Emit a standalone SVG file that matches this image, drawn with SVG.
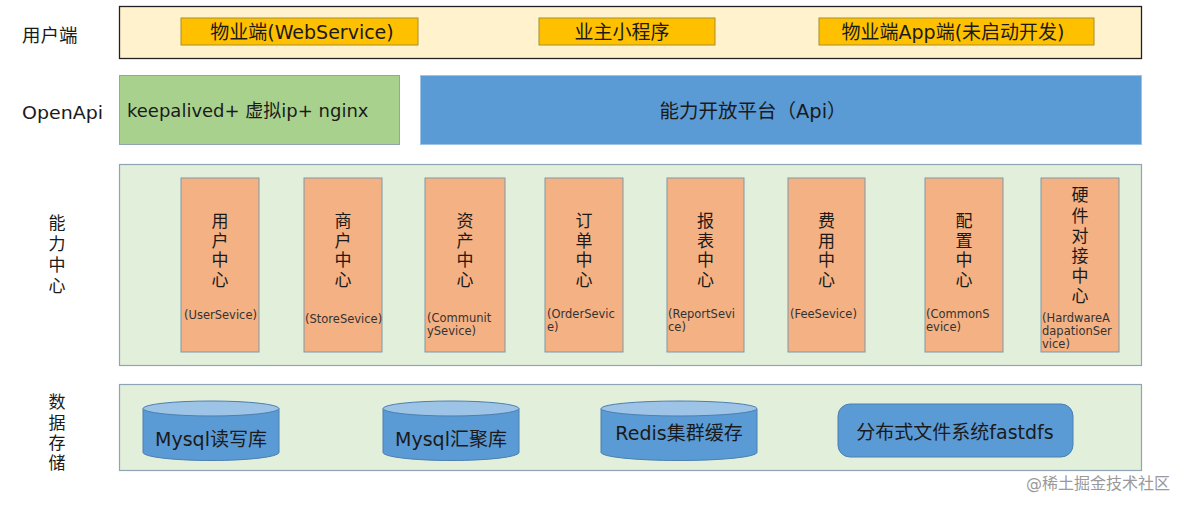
<svg xmlns="http://www.w3.org/2000/svg" width="1186" height="509" viewBox="0 0 1186 509">
<style>
text{font-family:"DejaVu Sans","Noto Sans CJK SC",sans-serif;fill:#1a1a1a}
.lbl{font-size:17px}
.vl{font-size:17px;text-anchor:middle}
.btn{fill:#FFC000;stroke:#A8902A;stroke-width:1}
.bt{font-size:19px;text-anchor:middle}
.svc{fill:#F4B183;stroke:#7E97A8;stroke-width:1}
.cn{font-size:17px;text-anchor:middle}
.en{font-size:11.5px;fill:#333}
.layer{fill:#E2EFDA;stroke:#8FA5B5;stroke-width:1.2}
.cylb{fill:#5B9BD5;stroke:#4A7FB0;stroke-width:1}
.cylt{fill:#9DC3E6;stroke:#4A7FB0;stroke-width:1}
.st{font-size:19px;text-anchor:middle}
</style>
<rect width="1186" height="509" fill="#ffffff"/>

<g id="label-user"><text x="22" y="42" style="font-size:18.5px">用户端</text></g>
<g id="label-openapi"><text x="22" y="119" style="font-size:18px" textLength="81" lengthAdjust="spacingAndGlyphs">OpenApi</text></g>
<g id="label-capability">
<text class="vl" x="57" y="229">能</text>
<text class="vl" x="57" y="250">力</text>
<text class="vl" x="57" y="271">中</text>
<text class="vl" x="57" y="292">心</text>
</g>
<g id="label-storage">
<text class="vl" x="57" y="408">数</text>
<text class="vl" x="57" y="429">据</text>
<text class="vl" x="57" y="449">存</text>
<text class="vl" x="57" y="469">储</text>
</g>

<g id="layer-user">
<rect x="119.5" y="6.5" width="1022" height="52" fill="#FFF2CC" stroke="#222" stroke-width="1.3"/>
</g>
<g id="node-web">
<rect class="btn" x="181" y="18" width="237" height="27"/>
<text class="bt" x="302" y="39">物业端(WebService)</text>
</g>
<g id="node-miniapp">
<rect class="btn" x="539" y="18" width="176" height="27"/>
<text class="bt" x="622" y="39">业主小程序</text>
</g>
<g id="node-app">
<rect class="btn" x="819" y="18" width="275" height="27"/>
<text class="bt" x="953" y="39">物业端App端(未启动开发)</text>
</g>

<g id="node-nginx">
<rect x="119.5" y="75.5" width="280" height="69" fill="#A9D18E" stroke="#8FA5B5" stroke-width="1"/>
<text x="127" y="117" style="font-size:18px">keepalived+ 虚拟ip+ nginx</text>
</g>
<g id="node-api">
<rect x="420.5" y="75.5" width="721" height="69" fill="#5B9BD5" stroke="#9DC3E6" stroke-width="1"/>
<text x="753" y="118" style="font-size:19.5px;text-anchor:middle">能力开放平台（Api）</text>
</g>

<g id="layer-capability">
<rect class="layer" x="119.5" y="164.5" width="1022" height="201"/>
</g>
<g id="node-user-center">
<rect class="svc" x="181" y="178" width="78" height="174"/>
<text class="cn" x="220" y="227">用</text><text class="cn" x="220" y="246.5">户</text><text class="cn" x="220" y="266">中</text><text class="cn" x="220" y="286">心</text>
<text class="en" x="184" y="319">(UserSevice)</text>
</g>
<g id="node-store-center">
<rect class="svc" x="304" y="178" width="78" height="174"/>
<text class="cn" x="343" y="227">商</text><text class="cn" x="343" y="246.5">户</text><text class="cn" x="343" y="266">中</text><text class="cn" x="343" y="286">心</text>
<text class="en" x="305" y="323">(StoreSevice)</text>
</g>
<g id="node-asset-center">
<rect class="svc" x="425" y="178" width="80" height="174"/>
<text class="cn" x="465" y="227">资</text><text class="cn" x="465" y="246.5">产</text><text class="cn" x="465" y="266">中</text><text class="cn" x="465" y="286">心</text>
<text class="en" x="427" y="322">(Communit</text><text class="en" x="427" y="335">ySevice)</text>
</g>
<g id="node-order-center">
<rect class="svc" x="545" y="178" width="78" height="174"/>
<text class="cn" x="584" y="227">订</text><text class="cn" x="584" y="246.5">单</text><text class="cn" x="584" y="266">中</text><text class="cn" x="584" y="286">心</text>
<text class="en" x="547" y="318">(OrderSevic</text><text class="en" x="547" y="331">e)</text>
</g>
<g id="node-report-center">
<rect class="svc" x="667" y="178" width="77" height="174"/>
<text class="cn" x="705.5" y="227">报</text><text class="cn" x="705.5" y="246.5">表</text><text class="cn" x="705.5" y="266">中</text><text class="cn" x="705.5" y="286">心</text>
<text class="en" x="668" y="318">(ReportSevi</text><text class="en" x="668" y="331">ce)</text>
</g>
<g id="node-fee-center">
<rect class="svc" x="788" y="178" width="77" height="174"/>
<text class="cn" x="826.5" y="227">费</text><text class="cn" x="826.5" y="246.5">用</text><text class="cn" x="826.5" y="266">中</text><text class="cn" x="826.5" y="286">心</text>
<text class="en" x="790" y="318">(FeeSevice)</text>
</g>
<g id="node-config-center">
<rect class="svc" x="925" y="178" width="78" height="174"/>
<text class="cn" x="964" y="227">配</text><text class="cn" x="964" y="246.5">置</text><text class="cn" x="964" y="266">中</text><text class="cn" x="964" y="286">心</text>
<text class="en" x="926" y="318">(CommonS</text><text class="en" x="926" y="331">evice)</text>
</g>
<g id="node-hardware-center">
<rect class="svc" x="1041" y="178" width="78" height="174"/>
<text class="cn" x="1080" y="201">硬</text><text class="cn" x="1080" y="221.5">件</text><text class="cn" x="1080" y="242">对</text><text class="cn" x="1080" y="262">接</text><text class="cn" x="1080" y="282">中</text><text class="cn" x="1080" y="302">心</text>
<text class="en" x="1042" y="322">(HardwareA</text><text class="en" x="1042" y="335">dapationSer</text><text class="en" x="1042" y="348">vice)</text>
</g>

<g id="layer-storage">
<rect class="layer" x="119.5" y="384.5" width="1022" height="86"/>
</g>
<g id="node-mysql-rw">
<path class="cylb" d="M143 408.5 V452.5 A68 8 0 0 0 279 452.5 V408.5 Z"/>
<ellipse class="cylt" cx="211" cy="408.5" rx="68" ry="7.5"/>
<text class="st" x="211" y="446">Mysql读写库</text>
</g>
<g id="node-mysql-agg">
<path class="cylb" d="M383 408.5 V452.5 A68 8 0 0 0 519 452.5 V408.5 Z"/>
<ellipse class="cylt" cx="451" cy="408.5" rx="68" ry="7.5"/>
<text class="st" x="451" y="446">Mysql汇聚库</text>
</g>
<g id="node-redis">
<path class="cylb" d="M601 408.5 V452.5 A78 8 0 0 0 757 452.5 V408.5 Z"/>
<ellipse class="cylt" cx="679" cy="408.5" rx="78" ry="7.5"/>
<text class="st" x="679" y="440">Redis集群缓存</text>
</g>
<g id="node-fastdfs">
<rect x="838" y="404" width="235" height="53" rx="12" fill="#5B9BD5" stroke="#4A7FB0" stroke-width="1"/>
<text class="st" x="955" y="439">分布式文件系统fastdfs</text>
</g>

<g id="connectors"></g>

<text x="1170" y="489" style="font-size:16px;fill:#9a9a9a;text-anchor:end">@稀土掘金技术社区</text>
</svg>
